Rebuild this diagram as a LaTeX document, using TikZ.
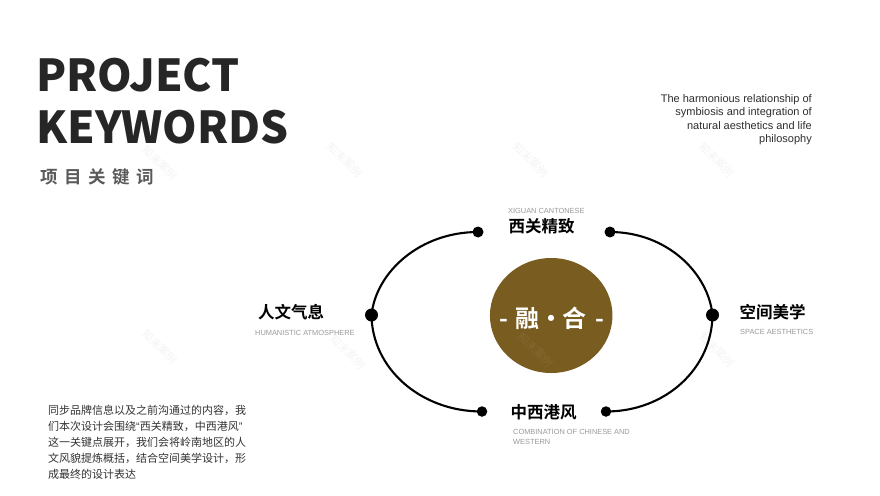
\documentclass[tikz,border=0pt]{standalone}
\usepackage{fontspec}
\usetikzlibrary{shapes.geometric}
\setmainfont{Liberation Sans}
\newfontfamily\cjk{Noto Sans CJK SC}
\newfontfamily\cjkb{Noto Sans CJK SC Bold}
\newfontfamily\cjkh{Noto Sans CJK SC Black}
\definecolor{titlec}{HTML}{262626}
\definecolor{subc}{HTML}{5A5A5A}
\definecolor{bodyc}{HTML}{333333}
\definecolor{engc}{HTML}{2E2E2E}
\definecolor{capc}{HTML}{9A9A9A}
\definecolor{gold}{HTML}{785C20}
\definecolor{wm}{HTML}{F4F4F4}
\tikzset{
  dot/.style={circle,fill=black,inner sep=0pt,minimum size=#1},
  dot/.default=11pt,
  arcline/.style={line width=2.1pt,black},
  keyword/.style={font=\cjkb\fontsize{16.5}{18}\selectfont,text=black,inner sep=0pt},
  caption/.style={font=\fontsize{7.4}{10.5}\selectfont,text=capc,inner sep=0pt,anchor=west,align=left},
  mark wm/.style={font=\cjk\fontsize{11}{12}\selectfont,text=wm,rotate=-45,inner sep=0pt},
  headline/.style={inner sep=0pt,anchor=base west,text=titlec,font=\cjkh\fontsize{44}{50}\selectfont},
}
\begin{document}
\begin{tikzpicture}[x=1pt,y=-1pt]
\useasboundingbox (0,0) rectangle (880,495);
\fill[white] (0,0) rectangle (880,495);
% watermarks
\node[mark wm] (w1) at (160,163) {知末案例};
\node[mark wm] (w2) at (345,160) {知末案例};
\node[mark wm] (w3) at (531,160) {知末案例};
\node[mark wm] (w4) at (717,160) {知末案例};
\node[mark wm] (w5) at (160,347) {知末案例};
\node[mark wm] (w6) at (348,352) {知末案例};
\node[mark wm] (w8) at (717,350) {知末案例};
% heading
\node[headline] (t1) at (36,91) {PROJECT};
\node[headline] (t2) at (36,143) {KEYWORDS};
\node[inner sep=0pt,anchor=west,text=subc,font=\cjkb\fontsize{17.5}{20}\selectfont] (t3) at (40,177) {项\hspace{6.5pt}目\hspace{6.5pt}关\hspace{6.5pt}键\hspace{6.5pt}词};
% english note
\node[inner sep=0pt,anchor=north east,align=right,text=engc,font=\fontsize{11}{13.3}\selectfont] (note) at (812,94.5) {The harmonious relationship of\\symbiosis and integration of\\natural aesthetics and life\\philosophy};
% body
\node[inner sep=0pt,anchor=north west,align=left,text=bodyc,font=\cjk\fontsize{11}{16}\selectfont] (body) at (48,405) {同步品牌信息以及之前沟通过的内容，我\\们本次设计会围绕{\rmfamily“}西关精致，中西港风{\rmfamily”}\\这一关键点展开，我们会将岭南地区的人\\文风貌提炼概括，结合空间美学设计，形\\成最终的设计表达};
% centre
\node[ellipse,fill=gold,inner sep=0pt,minimum width=122.5pt,minimum height=115pt] (hub) at (551.2,315.5) {};
\node[mark wm,text=gold!92!white] (w7) at (536,350) {知末案例};
\node[inner sep=0pt,text=white,font=\cjkb\fontsize{24}{26}\selectfont] (hubt) at (552,318) {-\hspace{7.5pt}融\hspace{-0.5pt}·\hspace{-0.5pt}合\hspace{9pt}-};
% dots
\node[dot=11pt] (tl) at (478,232) {};
\node[dot=11pt] (tr) at (610,232) {};
\node[dot=13pt] (ml) at (371.5,315) {};
\node[dot=13pt] (mr) at (712.5,315) {};
\node[dot=10.5pt] (bl) at (482,411.5) {};
\node[dot=10.5pt] (br) at (606,411.5) {};
% arcs
\draw[arcline] (tl.center) .. controls (420,232) and (376,272) .. (ml.center);
\draw[arcline] (ml.center) .. controls (372,368) and (420,411.5) .. (bl.center);
\draw[arcline] (tr.center) .. controls (666,232) and (708,272) .. (mr.center);
\draw[arcline] (mr.center) .. controls (712,368) and (666,411.5) .. (br.center);
% keywords
\node[keyword] (k1) at (541.5,226.5) {西关精致};
\node[keyword] (k2) at (543.5,412.5) {中西港风};
\node[keyword] (k3) at (291,312) {人文气息};
\node[keyword] (k4) at (772.5,312) {空间美学};
\node[caption] (c1) at (508,210.5) {XIGUAN CANTONESE};
\node[caption,anchor=north west] (c2) at (513,429) {COMBINATION OF CHINESE AND\\WESTERN};
\node[caption] (c3) at (255,332.5) {HUMANISTIC ATMOSPHERE};
\node[caption] (c4) at (740,332) {SPACE AESTHETICS};
\end{tikzpicture}
\end{document}
